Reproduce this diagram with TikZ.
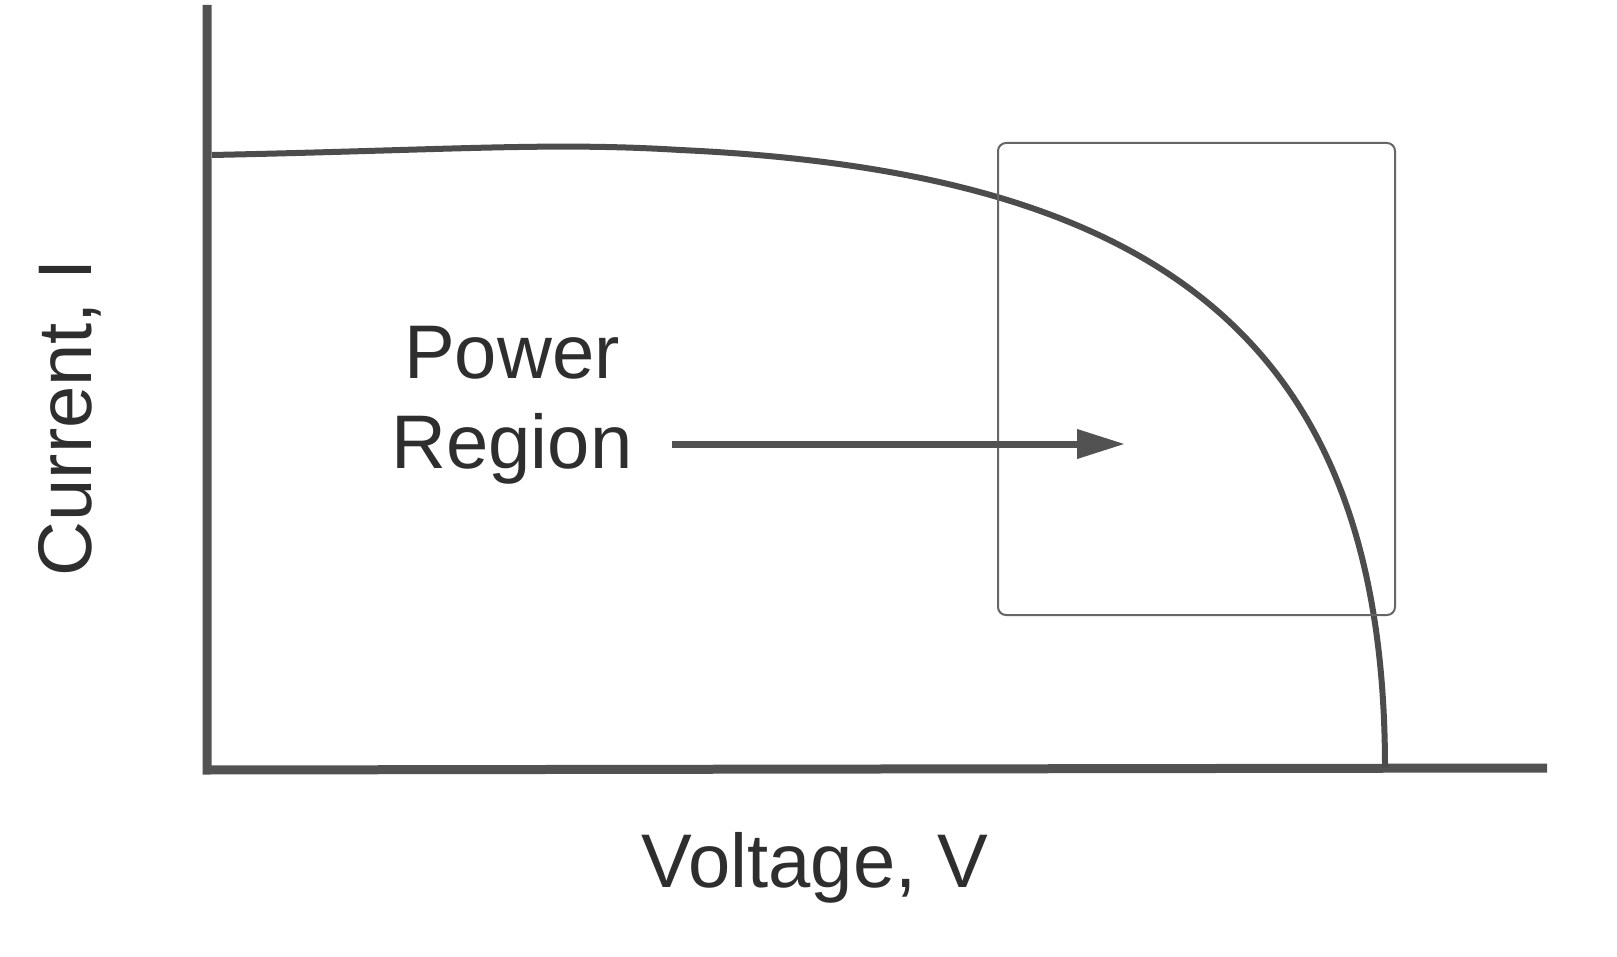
\documentclass[tikz,border=0pt]{standalone}
\usepackage{fontspec}
\setmainfont{Liberation Sans}
\usetikzlibrary{arrows.meta}
\begin{document}
\begin{tikzpicture}[x=0.5pt,y=-0.5pt,
  axis/.style={line width=4.5pt,color=black!68},
  lbl/.style={font=\fontsize{38}{45}\selectfont,text=black!82,inner sep=0pt}]
\useasboundingbox (0,0) rectangle (1617,957);
\fill[white] (0,0) rectangle (1617,957);
\coordinate (o) at (207,768);
\coordinate (ytop) at (207,5);
\coordinate (xend) at (1547,768);
\draw[axis] (ytop) -- (207,770) -- (xend);
\draw[line width=3pt,color=black!70] (212,155) .. controls (450,150) and (550,142) .. (680,150) .. controls (1160,172) and (1385,340) .. (1385,768);
\node[draw=black!60,line width=1pt,rounded corners=4pt,minimum width=198.5pt,minimum height=236pt,inner sep=0pt] (box) at (1196.5,379) {};
\node[lbl,align=center] (pr) at (512,405) {Power\\Region};
\coordinate (tip) at (1125,444);
\draw[line width=3.5pt,color=black!68,-{Triangle[length=24pt,width=14pt]}] (672,444) -- (tip);
\node[lbl,rotate=90] (yl) at (70,418) {Current, I};
\node[lbl] (xl) at (815,868) {Voltage, V};
\end{tikzpicture}
\end{document}
